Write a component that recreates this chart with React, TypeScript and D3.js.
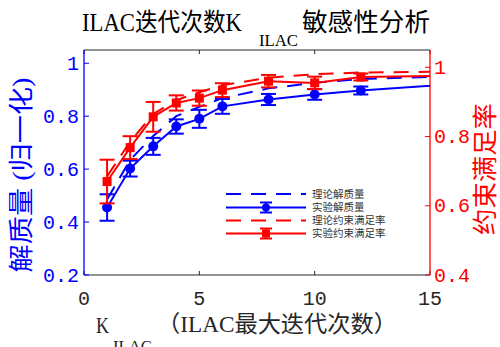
import React from "react";
import * as d3 from "d3";

const kValues = [1, 2, 3, 4, 5, 6, 8, 10, 12, 20];
const qualityTheory = [0.485, 0.635, 0.725, 0.8, 0.835, 0.868, 0.905, 0.926, 0.94, 0.962];
const qualityExp = [0.455, 0.602, 0.686, 0.761, 0.79, 0.837, 0.863, 0.882, 0.897, 0.945];
const qualityErr = [0.05, 0.03, 0.032, 0.027, 0.034, 0.028, 0.021, 0.02, 0.015, 0.012];
const satTheory = [0.685, 0.785, 0.865, 0.905, 0.928, 0.948, 0.97, 0.98, 0.985, 0.99];
const satExp = [0.67, 0.768, 0.857, 0.897, 0.911, 0.934, 0.96, 0.955, 0.972, 0.98];
const satErr = [0.063, 0.033, 0.043, 0.022, 0.022, 0.02, 0.018, 0.018, 0.01, 0.01];

const xTicks = [0, 5, 10, 15];
const yLeftTicks = [0.2, 0.4, 0.6, 0.8, 1];
const yRightTicks = [0.4, 0.6, 0.8, 1];
const legendLabels = ["理论解质量", "实验解质量", "理论约束满足率", "实验约束满足率"];

const BLUE = "#0000ff";
const RED = "#ff0000";
const LATIN = "'Liberation Serif', 'Noto Sans CJK SC', serif";
const MONO = "'Liberation Mono', monospace";
const CJK = "'Noto Sans CJK SC', 'Liberation Serif', sans-serif";

export default function App() {
  const L = 84, R = 430, T = 50, B = 275;
  const x = d3.scaleLinear().domain([0, 15]).range([L, R]);
  const yL = d3.scaleLinear().domain([0.2, 1.05]).range([B, T]);
  const yR = d3.scaleLinear().domain([0.4, 1.05]).range([B, T]);

  const lineFor = (ys: number[], sc: d3.ScaleLinear<number, number>) =>
    d3.line<number>().x((_, i) => x(kValues[i])).y((d) => sc(d))(ys) || "";

  const visible = kValues.map((k, i) => i).filter((i) => kValues[i] <= 15);
  const cap = 7.5;

  const errBars = (vals: number[], errs: number[], sc: any, color: string) =>
    visible.map((i) => {
      const cx = x(kValues[i]);
      const y1 = sc(vals[i] + errs[i]);
      const y2 = sc(vals[i] - errs[i]);
      return (
        <g key={"e" + i} stroke={color} strokeWidth={2}>
          <line x1={cx} x2={cx} y1={y1} y2={y2} />
          <line x1={cx - cap} x2={cx + cap} y1={y1} y2={y1} />
          <line x1={cx - cap} x2={cx + cap} y1={y2} y2={y2} />
        </g>
      );
    });

  const legY = [194, 207.5, 220.5, 233.5];
  const legX1 = 226, legX2 = 306, legMid = 266;

  return (
    <svg width={500} height={347} style={{ position: "absolute", left: 0, top: 0, background: "#fff" }}>
      <defs>
        <clipPath id="plotclip">
          <rect x={L} y={T} width={R - L} height={B - T} />
        </clipPath>
      </defs>
      <rect x={0} y={0} width={500} height={347} fill="#fff" />

      {/* frame */}
      <line x1={L} x2={R} y1={T} y2={T} stroke="#262626" strokeWidth={1} />
      <line x1={L} x2={R} y1={B} y2={B} stroke="#262626" strokeWidth={1} />

      {/* x ticks */}
      {xTicks.map((t) => (
        <g key={"xt" + t}>
          <line x1={x(t)} x2={x(t)} y1={B} y2={B - 4} stroke="#262626" />
          <line x1={x(t)} x2={x(t)} y1={T} y2={T + 4} stroke="#262626" />
          <text x={x(t)} y={299} textAnchor="middle" dominantBaseline="central" fontFamily={MONO} fontSize={20} fill="#262626">
            {t}
          </text>
        </g>
      ))}

      {/* left axis */}
      <line x1={L} x2={L} y1={T} y2={B} stroke={BLUE} strokeWidth={1.3} />
      {yLeftTicks.map((t) => (
        <g key={"yl" + t}>
          <line x1={L} x2={L + 5} y1={yL(t)} y2={yL(t)} stroke={BLUE} />
          <text x={79} y={yL(t) + 1.5} textAnchor="end" dominantBaseline="central" fontFamily={MONO} fontSize={20} fill={BLUE}>
            {String(t)}
          </text>
        </g>
      ))}

      {/* right axis */}
      <line x1={R} x2={R} y1={T} y2={B} stroke={RED} strokeWidth={1.3} />
      {yRightTicks.map((t) => (
        <g key={"yr" + t}>
          <line x1={R} x2={R - 5} y1={yR(t)} y2={yR(t)} stroke={RED} />
          <text x={434} y={yR(t) + 1} textAnchor="start" dominantBaseline="central" fontFamily={MONO} fontSize={20} fill={RED}>
            {String(t)}
          </text>
        </g>
      ))}

      {/* data */}
      <g clipPath="url(#plotclip)">
        <path d={lineFor(qualityTheory, yL)} fill="none" stroke={BLUE} strokeWidth={2} strokeDasharray="15 10" />
        {errBars(qualityExp, qualityErr, yL, BLUE)}
        <path d={lineFor(qualityExp, yL)} fill="none" stroke={BLUE} strokeWidth={2} />
        {visible.map((i) => (
          <circle key={"c" + i} cx={x(kValues[i])} cy={yL(qualityExp[i])} r={5} fill={BLUE} />
        ))}
        <path d={lineFor(satTheory, yR)} fill="none" stroke={RED} strokeWidth={2} strokeDasharray="15 10" />
        {errBars(satExp, satErr, yR, RED)}
        <path d={lineFor(satExp, yR)} fill="none" stroke={RED} strokeWidth={2} />
        {visible.map((i) => (
          <rect key={"s" + i} x={x(kValues[i]) - 4.5} y={yR(satExp[i]) - 4.5} width={9} height={9} fill={RED} />
        ))}
      </g>

      {/* legend */}
      <g>
        {legendLabels.map((lab, i) => {
          const color = i < 2 ? BLUE : RED;
          const dashed = i % 2 === 0;
          const yy = legY[i];
          return (
            <g key={"lg" + i}>
              <line x1={legX1} x2={legX2} y1={yy} y2={yy} stroke={color} strokeWidth={2} strokeDasharray={dashed ? "15 10" : undefined} />
              {!dashed && (
                <g stroke={color} strokeWidth={2}>
                  <line x1={legMid} x2={legMid} y1={yy - 5} y2={yy + 5} />
                  <line x1={legMid - 6} x2={legMid + 6} y1={yy - 5} y2={yy - 5} />
                  <line x1={legMid - 6} x2={legMid + 6} y1={yy + 5} y2={yy + 5} />
                </g>
              )}
              {!dashed && i === 1 && <circle cx={legMid} cy={yy} r={4} fill={color} />}
              {!dashed && i === 3 && <rect x={legMid - 4} y={yy - 4} width={8} height={8} fill={color} />}
              <text x={312} y={yy + 3.8} fontFamily={LATIN} fontSize={10.5} fill="#333">
                {lab}
              </text>
            </g>
          );
        })}
      </g>

      {/* title */}
      <text x={82} y={31} fontFamily={LATIN} fontSize={25} fill="#000" textLength={160} lengthAdjust="spacingAndGlyphs">
        ILAC迭代次数K
      </text>
      <text x={259} y={46} fontFamily={LATIN} fontSize={16} fill="#000" textLength={39} lengthAdjust="spacingAndGlyphs">
        ILAC
      </text>
      <text x={302} y={31} fontFamily={CJK} fontSize={25} fill="#000" textLength={128} lengthAdjust="spacingAndGlyphs">
        敏感性分析
      </text>

      {/* x label */}
      <text x={96} y={333} fontFamily={LATIN} fontSize={24} fill="#262626" textLength={13} lengthAdjust="spacingAndGlyphs">
        K
      </text>
      <text x={113} y={352} fontFamily={LATIN} fontSize={16} fill="#262626" textLength={39} lengthAdjust="spacingAndGlyphs">
        ILAC
      </text>
      <text x={157} y={332} fontFamily={LATIN} fontSize={23} fill="#262626" textLength={240} lengthAdjust="spacingAndGlyphs">
        （ILAC最大迭代次数）
      </text>

      {/* y labels */}
      <text
        transform="translate(21,175) rotate(-90)"
        textAnchor="middle"
        dominantBaseline="central"
        fontFamily={LATIN}
        fontSize={25}
        fill={BLUE}
        textLength={195}
        lengthAdjust="spacingAndGlyphs"
      >
        解质量 (归一化)
      </text>
      <text
        transform="translate(483,169) rotate(-90)"
        textAnchor="middle"
        dominantBaseline="central"
        fontFamily={CJK}
        fontSize={25}
        fill={RED}
        textLength={132}
        lengthAdjust="spacingAndGlyphs"
      >
        约束满足率
      </text>
    </svg>
  );
}
